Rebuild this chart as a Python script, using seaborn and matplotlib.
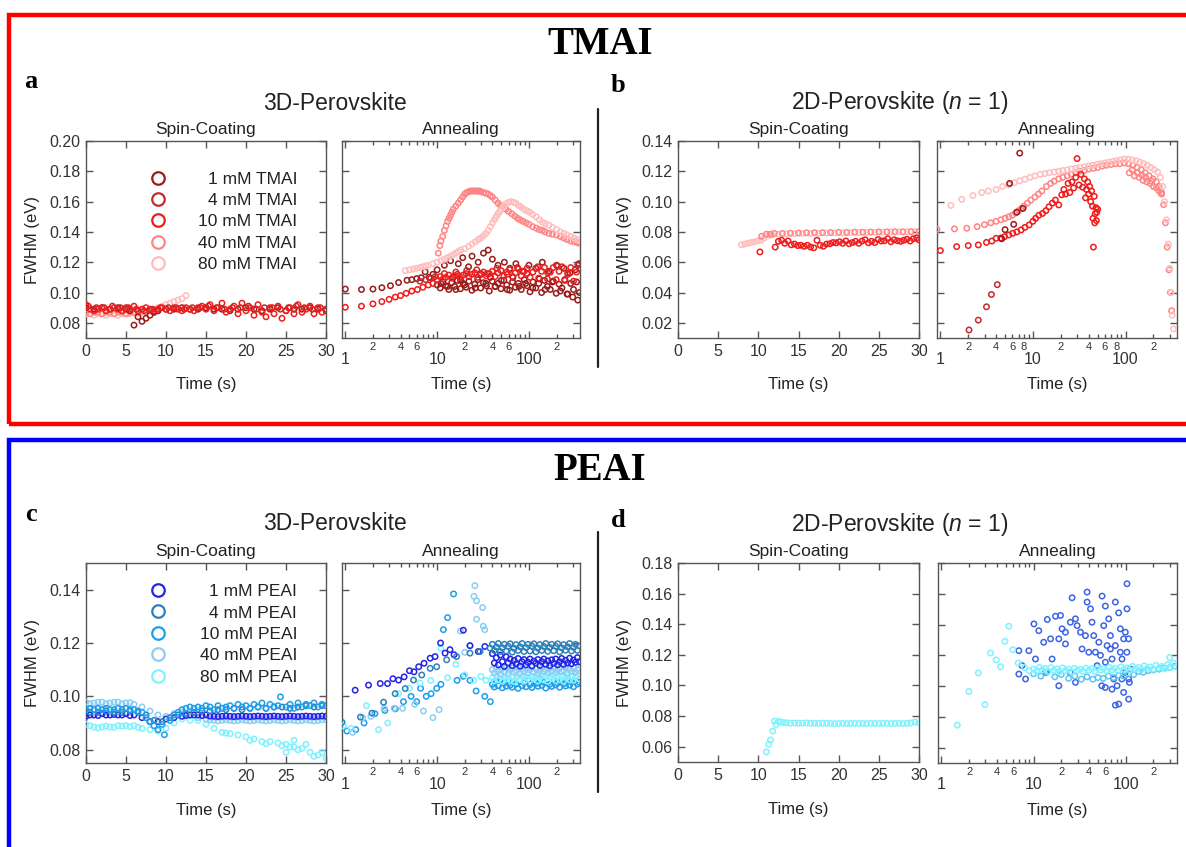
import numpy as np
import pandas as pd
import matplotlib
matplotlib.use("Agg")
import matplotlib.pyplot as plt
import seaborn as sns
from matplotlib.ticker import FixedLocator, FuncFormatter
from matplotlib.patches import Rectangle
from matplotlib.lines import Line2D

sns.set_theme(style="ticks")
plt.rcParams['font.family'] = ['Liberation Sans', 'DejaVu Sans']
plt.rcParams['mathtext.fontset'] = 'custom'
plt.rcParams['mathtext.it'] = 'Liberation Sans:italic'
plt.rcParams['mathtext.rm'] = 'Liberation Sans'

# ---------------- data ----------------
TMAI_LABELS = ["1 mM TMAI", "4 mM TMAI", "10 mM TMAI", "40 mM TMAI", "80 mM TMAI"]
PEAI_LABELS = ["1 mM PEAI", "4 mM PEAI", "10 mM PEAI", "40 mM PEAI", "80 mM PEAI"]
TMAI_COLORS = ["#9B1B1B", "#C42A2E", "#F01C1C", "#FF8585", "#FFBDBD"]
PEAI_COLORS = ["#2424E8", "#2C82B8", "#1E9EEA", "#8CCDF2", "#7EF2FF"]

# sampling times of the dense annealing bands (s)
BAND_T_A = [10, 10.8, 11.6, 12.4, 13.4, 14.4, 15.5, 16.6, 17.9, 19.2, 20.7, 22.2, 23.9, 25.7, 27.7, 29.8, 32, 34.4, 37, 39.8,
            42.8, 46.1, 49.6, 53.3, 57.3, 61.7, 66.3, 71.3, 76.7, 82.5, 88.8, 95.5, 102.7, 110.5, 118.8, 127.8, 137.5, 147.9, 159, 171,
            184, 198, 213, 229, 246, 265, 285, 306, 330, 355]
BAND_T_C = [40, 42, 44.2, 46.4, 48.8, 51.3, 53.9, 56.6, 59.5, 62.5, 65.7, 69, 72.5, 76.2, 80.1, 84.2, 88.4, 92.9, 97.7, 102.6,
            107.8, 113.3, 119.1, 125.2, 131.5, 138.2, 145.2, 152.6, 160.4, 168.6, 177.1, 186.1, 195.6, 205.6, 216, 227, 238.6, 250.7, 263.5, 276.9,
            291, 305.8, 321.3, 337.7, 355]

# panel a : TMAI 3D spin-coating
a_spin_1 = [(0,.090),(1,.089),(2,.090),(3,.089),(4,.090),(5,.089),(5.5,.088),(6,.0785),(6.5,.084),(7,.081),(7.5,.083),(8,.085),(8.5,.087),(9,.088),(10,.089),(11,.089),(12,.090),(13,.089),(14,.089),(15,.090),(16,.089),(17,.089),(18,.088),(19,.089),(20,.090),(21,.089),(22,.088),(23,.089),(24,.090),(25,.088),(26,.089),(27,.089),(28,.090),(29,.089),(30,.088)]
a_spin_4 = [(0.3,.091),(1.3,.090),(2.3,.090),(3.3,.091),(4.3,.090),(5.3,.090),(6.3,.089),(7.3,.088),(8.3,.089),(9.3,.090),(10.3,.090),(11.3,.090),(12.3,.089),(13.3,.090),(14.3,.090),(15.3,.091),(16.3,.090),(17.3,.089),(18.3,.090),(19.3,.090),(20.3,.091),(21.3,.089),(22.3,.090),(23.3,.090),(24.3,.089),(25.3,.090),(26.3,.091),(27.3,.090),(28.3,.089),(29.3,.090)]
a_spin_10 = [(0,.092),(0.5,.089),(1,.088),(1.5,.089),(2,.090),(2.5,.088),(3,.089),(3.5,.090),(4,.089),(4.5,.088),(5,.090),(5.5,.089),(6,.091),(6.5,.088),(7,.089),(7.5,.090),(8,.089),(8.5,.088),(9,.089),(9.5,.090),(10,.089),(10.5,.088),(11,.090),(11.5,.089),(12,.088),(12.5,.090),(13,.089),(13.5,.088),(14,.090),(14.5,.091),(15,.089),(15.5,.092),(16,.088),(16.5,.090),(17,.093),(17.5,.087),(18,.089),(18.5,.091),(19,.086),(19.5,.093),(20,.088),(20.5,.090),(21,.085),(21.5,.092),(22,.087),(22.5,.084),(23,.090),(23.5,.086),(24,.091),(24.5,.083),(25,.088),(25.5,.090),(26,.086),(26.5,.092),(27,.087),(27.5,.089),(28,.091),(28.5,.086),(29,.090),(29.5,.087),(30,.089)]
a_spin_40 = [(0,.087),(0.5,.086),(1,.087),(1.5,.087),(2,.086),(2.5,.087),(3,.087),(3.5,.086),(4,.087),(4.5,.087),(5,.086),(5.5,.087),(6,.087),(6.5,.087),(7,.088),(7.5,.087),(8,.088),(8.5,.087),(9,.088)]
a_spin_80 = [(0,.086),(0.5,.086),(1,.085),(1.5,.086),(2,.086),(2.5,.085),(3,.086),(3.5,.086),(4,.085),(4.5,.086),(5,.086),(5.5,.086),(6,.087),(6.5,.086),(7,.087),(7.5,.087),(8,.088),(8.5,.089),(9,.090),(9.5,.091),(10,.092),(10.5,.093),(11,.094),(11.5,.095),(12,.096),(12.5,.098)]

# panel a : TMAI 3D annealing
a_ann_1 = [(1.0,.1023),(1.5,.102),(2.0,.1023),(2.5,.1032),(3.1,.1045),(3.8,.1066),(4.7,.1081),(5.3,.1085),(6.0,.1092),(6.7,.1098),(7.4,.1137),(8.2,.110),(9.0,.112),
           (10,.115),(11,.106),(12,.118),(13,.104),(14,.121),(15,.110),(16,.102),(17,.119),(18,.108),(19,.123),(20,.105),(22,.117),(24,.124),(26,.103),(28,.120),(30,.112),(32,.126),(34,.106),(36,.128),(38,.110),(40,.122),(43,.104),(46,.118),(50,.108),(54,.120),(58,.102),(62,.116),(67,.110),(72,.119),(78,.104),(85,.114),(92,.106),(100,.118),(110,.103),(120,.116),(130,.109),(140,.120),(150,.102),(165,.114),(180,.107),(200,.118),(220,.101),(240,.116),(260,.099),(280,.113),(300,.097),(320,.115),(340,.095),(350,.119)]
a_ann_1_band = [.1050,.1030,.1070,.1045,.1020,.1065,.1040,.1080,.1025,.1060,.1035,.1075,.1015,.1055,.1085,.1030,.1065,.1045,.1010,.1075,
                .1040,.1060,.1025,.1080,.1050,.1015,.1070,.1035,.1060,.1020,.1085,.1045,.1005,.1070,.1030,.1060,.1000,.1080,.1040,.1020,
                .1075,.0995,.1055,.1030,.1085,.0990,.1060,.1020,.1070,.1000]
a_ann_4 = [(6.5,.1075),(7.5,.1085),(8.5,.1095),(9.5,.1105),(12,.1125),(16,.1135),(21,.1145),(27,.1150),(35,.1125),(45,.1160),(58,.1120),(75,.1165),(95,.1125),(125,.1170),(160,.1130),(205,.1175),(265,.1120),(340,.1180)]
a_ann_10_early = [(1.0,.0903),(1.5,.091),(2.0,.0925),(2.5,.094),(3.0,.0955),(3.5,.097),(4.0,.098),(4.6,.0995),(5.3,.101),(6.1,.102),(7.0,.1035),(8.0,.105),(9.0,.106)]
a_ann_10_band = [.1085,.1105,.1090,.1100,.1115,.1095,.1110,.1120,.1100,.1115,.1125,.1105,.1120,.1130,.1100,.1125,.1135,.1110,.1125,.1140,
                 .1105,.1130,.1145,.1110,.1135,.1150,.1105,.1130,.1155,.1110,.1140,.1160,.1100,.1135,.1160,.1095,.1140,.1165,.1090,.1135,
                 .1165,.1085,.1140,.1170,.1080,.1130,.1165,.1075,.1135,.1160]
a_ann_40 = [(10.3,.126),(10.7,.131),(11.0,.134),(11.5,.137),(12.0,.141),(12.5,.144),(13.0,.147),(13.5,.149),(14.0,.151),(14.5,.153),(15,.155),(16,.157),(17,.159),(18,.161),(19,.163),(20,.165),(21,.166),(22,.1665),(23,.167),(24,.167),(25,.167),(26,.167),(27,.167),(28,.167),(29,.167),(30,.1665),(32,.166),(34,.1655),(36,.165),(38,.164),(40,.163),(43,.161),(46,.159),(49,.1575),(52,.157),(56,.155),(60,.1535),(65,.152),(70,.1505),(75,.149),(80,.148),(86,.147),(93,.146),(100,.145),(110,.1435),(120,.1425),(130,.1415),(140,.141),(150,.140),(165,.139),(180,.1385),(200,.138),(220,.137),(240,.136),(260,.135),(285,.134),(310,.1335),(335,.133),(355,.1325)]
a_ann_80 = [(4.5,.1145),(5,.115),(5.5,.1155),(6,.116),(6.5,.1165),(7,.117),(7.5,.1175),(8,.118),(9,.119),(10,.120),(11,.121),(12,.122),(13,.123),(14,.124),(15,.125),(16,.126),(17,.127),(18,.128),(20,.129),(22,.1305),(24,.132),(26,.1335),(28,.135),(30,.136),(32,.1375),(34,.139),(36,.141),(38,.1435),(40,.146),(42,.148),(44,.150),(46,.152),(48,.1535),(50,.155),(53,.157),(56,.1585),(60,.1595),(64,.160),(68,.1595),(72,.159),(77,.1575),(82,.1565),(88,.155),(95,.154),(102,.153),(110,.1515),(120,.150),(130,.148),(140,.1465),(150,.1455),(165,.1445),(180,.143),(200,.1415),(220,.140),(240,.139),(260,.138),(285,.137),(310,.136),(335,.135),(355,.1345)]

# panel b : TMAI 2D spin-coating
b_spin_10 = [(10.2,.0668),(12.1,.0700),(12.5,.0738),(12.9,.0745),(13.3,.0725),(13.7,.0740),(14.1,.0715),(14.5,.0720),(14.9,.0710),(15.3,.0712),(15.7,.0705),(16.1,.0712),(16.5,.0700),(16.9,.0695),(17.3,.0745),(17.7,.0712),(18.1,.0705),(18.5,.0720),(18.9,.0722),(19.3,.0730),(19.7,.0728),(20.1,.0735),(20.5,.0725),(20.9,.0740),(21.3,.0722),(21.7,.0730),(22.1,.0738),(22.5,.0725),(22.9,.0740),(23.3,.0748),(23.7,.0728),(24.1,.0738),(24.5,.0730),(24.9,.0750),(25.3,.0740),(25.7,.0742),(26.1,.0755),(26.5,.0735),(26.9,.0748),(27.3,.0742),(27.7,.0738),(28.1,.0745),(28.5,.0752),(28.9,.0740),(29.3,.0755),(29.7,.0760),(30,.0748)]
b_spin_40 = [(10.4,.0771),(11,.0785),(11.5,.0785),(12,.079),(13,.079),(14,.0792),(15,.0793),(16,.0794),(17,.0795),(18,.0795),(19,.0796),(20,.0797),(21,.0797),(22,.0798),(23,.0798),(24,.0799),(25,.080),(26,.080),(27,.0801),(28,.0801),(29,.0802),(30,.0803)]
b_spin_80 = [(7.9,.0715),(8.3,.072),(8.7,.0725),(9.1,.073),(9.5,.0735),(9.9,.074),(10.3,.0745),(10.7,.076),(11.2,.0775),(11.7,.078),(12.5,.0785),(13.5,.0787),(14.5,.0788),(15.5,.079),(16.5,.079),(17.5,.0791),(18.5,.0792),(19.5,.0793),(20.5,.0794),(21.5,.0795),(22.5,.0796),(23.5,.0797),(24.5,.0798),(25.5,.0799),(26.5,.080),(27.5,.080),(28.5,.0801),(29.5,.0802)]

# panel b : TMAI 2D annealing
b_ann_1 = [(4.6,.0755),(5.0,.0815),(5.6,.112),(6.2,.085),(6.7,.093),(7.2,.132),(7.8,.0955)]
b_ann_4 = [(2.04,.0153),(2.57,.0218),(3.15,.0306),(3.56,.0387),(4.12,.0452)]
b_ann_10 = [(1.0,.0677),(1.5,.0703),(2.0,.071),(2.57,.0714),(3.15,.0731),(3.6,.074),(4.0,.0758),(4.5,.076),(4.94,.0769),(5.5,.078),(6.06,.0791),(6.7,.080),(7.45,.0813),(8.2,.083),(9.1,.0846),(10.0,.087),(10.7,.089),(11.6,.091),(12.7,.0922),(13.8,.094),(14.9,.0966),(16.2,.099),(17.5,.101),(19,.0978),(20.5,.1045),(21.6,.108),(22.5,.105),(24,.112),(25,.106),(26.4,.113),(27.5,.109),(29,.116),(30,.1284),(31.5,.111),(33,.118),(34.5,.1095),(36,.115),(37,.1025),(38,.108),(39,.113),(40,.105),(41,.110),(42,.100),(43,.107),(44,.097),(45,.070),(46,.1035),(47,.092),(48,.096),(49,.093),(50,.095),(44.5,.089),(46.5,.086),(48.5,.0875)]
b_ann_40 = [(0.92,.0817),(1.42,.0820),(1.93,.0824),(2.5,.0835),(3.0,.0848),(3.5,.0860),(4.0,.0870),(4.5,.0880),(5.0,.0890),(5.5,.0900),(6.0,.0910),(6.5,.0925),(7.0,.094),(7.5,.0955),(8.0,.097),(8.7,.099),(9.5,.101),(10.5,.103),(11.5,.105),(12.5,.107),(14,.110),(15.5,.112),(17,.1135),(19,.115),(21,.116),(23.5,.117),(26,.118),(29,.119),(32,.120),(36,.1205),(40,.1215),(45,.122),(50,.1225),(56,.1235),(62,.124),(70,.1245),(78,.125),(87,.125),(97,.1255),(108,.125),(120,.124),(133,.1225),(148,.121),(163,.119),(180,.117),(198,.115),(215,.113),(230,.110),(245,.106),(258,.098),(270,.086),(282,.070),(295,.055),(305,.040),(315,.028),
            (110,.119),(125,.117),(140,.116),(155,.114),(170,.113),(185,.112),(200,.110),(215,.109),(230,.107),(245,.105),(118,.121),(135,.119),(150,.1175),(165,.116),(192,.1135)]
b_ann_80 = [(1.3,.0975),(1.7,.1015),(2.25,.104),(2.8,.106),(3.3,.107),(4.0,.108),(4.7,.110),(5.5,.111),(6.3,.1125),(7.2,.1137),(8.2,.1148),(9.3,.116),(10.5,.117),(12,.118),(13.5,.1185),(15,.119),(17,.1195),(19,.120),(21,.1205),(23.5,.121),(26,.1215),(29,.122),(32,.1225),(36,.123),(40,.1235),(44,.124),(49,.1245),(54,.125),(60,.1255),(66,.126),(73,.1265),(80,.127),(88,.1275),(97,.128),(107,.128),(118,.1275),(130,.127),(143,.126),(157,.125),(172,.124),(188,.1225),(205,.121),(222,.1195),(238,.116),(252,.110),(265,.100),(277,.088),(290,.072),(300,.056),(310,.040),(320,.025),(330,.016)]

# panel c : PEAI 3D spin-coating
c_spin_1 = [(0,.0925),(1,.093),(2,.0935),(3,.093),(4,.093),(5,.0935),(6,.093),(7,.092),(8,.0905),(9,.0905),(10,.0915),(11,.092),(12,.0925),(13,.093),(14,.093),(15,.093),(16,.0925),(17,.0925),(18,.0925),(19,.0925),(20,.0925),(21,.0925),(22,.0925),(23,.0925),(24,.0925),(25,.0925),(26,.0925),(27,.0925),(28,.0925),(29,.0925),(30,.0925),
            (0.5,.093),(1.5,.0928),(2.5,.093),(3.5,.0932),(4.5,.093),(5.5,.0928),(12.5,.0928),(13.5,.093),(14.5,.0928),(15.5,.0926),(16.5,.0924),(17.5,.0926),(18.5,.0924),(19.5,.0926),(20.5,.0924),(21.5,.0926),(22.5,.0924),(23.5,.0926),(24.5,.0924),(25.5,.0926),(26.5,.0924),(27.5,.0926),(28.5,.0924),(29.5,.0926)]
c_spin_4 = [(0.5,.094),(1.5,.094),(2.5,.0945),(3.5,.094),(4.5,.094),(5.5,.0945),(6.5,.094),(7.5,.093),(8.5,.091),(9.5,.0905),(10.5,.092),(11.5,.093),(12.5,.0935),(13.5,.094),(14.5,.0945),(15.5,.0945),(16.5,.095),(17.5,.095),(18.5,.0955),(19.5,.095),(20.5,.0955),(21.5,.096),(22.5,.0955),(23.5,.096),(24.5,.096),(25.5,.0955),(26.5,.096),(27.5,.0965),(28.5,.096),(29.5,.0965)]
c_spin_10 = [(0,.095),(0.5,.0955),(1,.095),(1.5,.0955),(2,.095),(2.5,.0955),(3,.095),(3.5,.095),(4,.0955),(4.5,.095),(5,.0955),(5.5,.095),(6,.095),(6.5,.0945),(7,.094),(7.5,.092),(8,.0905),(8.5,.089),(9,.0875),(9.5,.0895),(9.8,.0856),(10.5,.091),(11,.093),(11.5,.094),(12,.095),(12.5,.0955),(13,.096),(13.5,.0955),(14,.096),(14.5,.0955),(15,.0965),(15.5,.096),(16,.095),(16.5,.0965),(17,.0955),(17.5,.096),(18,.0965),(18.5,.0955),(19,.097),(19.5,.096),(20,.0965),(20.5,.0955),(21,.097),(21.5,.096),(22,.0975),(22.5,.0955),(23,.097),(23.5,.096),(24,.0965),(24.3,.0998),(25,.096),(25.5,.097),(26,.0955),(26.5,.0975),(27,.096),(27.5,.097),(28,.0965),(28.5,.0975),(29,.096),(29.5,.097),(30,.0965)]
c_spin_40 = [(0,.0978),(1,.0975),(2,.0978),(3,.0975),(4,.0978),(5,.0975),(6,.097),(7,.096),(8,.0945),(9,.093),(10,.0925),(11,.0935),(12,.094),(13,.093),(14,.092),(15,.0915),(16,.091),(17,.091),(18,.091),(19,.091),(20,.091),(21,.091),(22,.091),(23,.091),(24,.091),(25,.091),(26,.091),(27,.091),(28,.091),(29,.091),(30,.0912),
             (0.5,.0972),(1.5,.0978),(2.5,.0972),(3.5,.0978),(4.5,.0972),(5.5,.0976),(15.5,.0912),(16.5,.0908),(17.5,.0912),(18.5,.0908),(19.5,.0912),(20.5,.0908),(21.5,.0912),(22.5,.0908),(23.5,.0912),(24.5,.0908),(25.5,.0912),(26.5,.0908),(27.5,.0912),(28.5,.0908),(29.5,.0912)]
c_spin_80 = [(0,.0895),(1,.0885),(2,.0885),(3,.0885),(4,.089),(5,.089),(6,.089),(7,.088),(8,.0875),(9,.087),(10,.088),(11,.090),(12,.0915),(13,.091),(14,.091),(15,.0895),(16,.088),(17,.0865),(18,.086),(19,.0855),(20,.0848),(21,.084),(22,.083),(23,.083),(24,.0825),(25,.082),(26,.081),(27,.0805),(28,.079),(29,.078),(30,.0768),
             (17.5,.0862),(20.5,.0835),(22.5,.0822),(24.5,.0815),(25.5,.0810),(26.5,.0800),(27.5,.0820),(28.5,.0775),(29.5,.0790),(25,.0790),(26,.0835),
             (0.5,.089),(1.5,.0882),(2.5,.0888),(3.5,.0884),(4.5,.0888),(5.5,.0886),(6.5,.0884)]

# panel c : PEAI 3D annealing
c_ann_1_early = [(1.28,.1023),(1.79,.1042),(2.4,.1048),(2.88,.1048),(3.3,.1066),(3.8,.1061),(4.37,.1073),(5.0,.1096),(5.6,.1092),(6.3,.1111),(7.2,.1124),(8.4,.1143),(9.5,.1149),(10.9,.120),(12.2,.1162),(13.8,.1175),(15.3,.1156),(19.3,.1248),(22.8,.119),(28.1,.1168),(33.1,.1187)]
c_ann_1_band = [.1160,.1125,.1145,.1118,.1155,.1130,.1112,.1148,.1125,.1140,.1115,.1135,.1122,.1142,.1113,.1130,.1138,.1118,.1128,.1140,
                .1114,.1132,.1125,.1138,.1116,.1130,.1140,.1120,.1133,.1115,.1137,.1124,.1140,.1118,.1130,.1142,.1120,.1135,.1125,.1143,
                .1122,.1136,.1128,.1145,.1130]
c_ann_4_early = [(0.92,.0903),(1.46,.0922),(1.95,.0937),(2.61,.0978),(3.49,.101),(4.49,.1029),(5.53,.1061),(6.8,.108),(8.4,.1105),(9.9,.1111),(12.7,.1137),(16.3,.1149),(22.8,.1162),(29.3,.1168),(37.7,.1181)]
c_ann_4_band = [.1195,.1172,.1185,.1198,.1168,.1182,.1195,.1170,.1188,.1197,.1166,.1180,.1194,.1172,.1186,.1198,.1168,.1183,.1195,.1170,
                .1189,.1197,.1167,.1181,.1194,.1172,.1187,.1198,.1169,.1183,.1195,.1171,.1188,.1197,.1167,.1182,.1194,.1173,.1186,.1198,
                .1170,.1184,.1195,.1172,.1189]
c_ann_10_early = [(1.04,.087),(1.3,.0875),(1.6,.090),(2.1,.0935),(2.7,.0947),(3.5,.0953),(4.3,.098),(5.2,.100),(6.0,.098),(6.6,.103),(7.6,.100),(8.6,.101),(9.9,.103),(11.7,.125),(13.0,.1295),(15.1,.1384),(11.0,.1045),(16.5,.106),(19.3,.1075),(22.8,.106),(26.6,.102),(33,.100),(38,.098)]
c_ann_10_band = [.1045,.1035,.1058,.1040,.1062,.1032,.1050,.1038,.1060,.1042,.1034,.1055,.1046,.1030,.1058,.1040,.1052,.1036,.1061,.1044,
                 .1033,.1056,.1048,.1038,.1062,.1041,.1053,.1031,.1057,.1045,.1037,.1060,.1043,.1050,.1034,.1058,.1047,.1039,.1061,.1042,
                 .1054,.1036,.1059,.1046,.1052]
c_ann_40_early = [(1.2,.0865),(1.55,.092),(1.9,.0925),(2.65,.0955),(3.4,.0955),(4.2,.0955),(5.7,.097),(7.1,.0945),(9.0,.092),(10.5,.095),(18,.1245),(20,.1165),(22.8,.119),(25.8,.1415),(25.2,.1375),(26.9,.1358),(31.3,.1333),(26.9,.1289),(31.8,.1263),(33,.125)]
c_ann_40_band = [.1100,.1088,.1108,.1095,.1085,.1105,.1092,.1110,.1087,.1100,.1106,.1090,.1097,.1109,.1086,.1102,.1094,.1107,.1089,.1099,
                 .1110,.1091,.1103,.1086,.1096,.1108,.1093,.1101,.1088,.1105,.1095,.1110,.1089,.1100,.1106,.1092,.1098,.1109,.1087,.1103,
                 .1094,.1107,.1090,.1100,.1105]
c_ann_80_early = [(0.95,.089),(1.15,.088),(1.7,.0965),(2.3,.0875),(2.9,.090),(3.8,.101),(5.0,.103),(6.5,.105),(8.5,.106),(11,.118),(13,.107),(16,.112),(20,.108),(25,.106),(30,.1075),(34,.106)]
c_ann_80_band = [.1070,.1058,.1077,.1062,.1080,.1056,.1072,.1066,.1078,.1060,.1074,.1055,.1069,.1079,.1063,.1075,.1057,.1071,.1080,.1061,
                 .1073,.1066,.1078,.1058,.1070,.1076,.1062,.1079,.1056,.1072,.1067,.1080,.1059,.1074,.1064,.1077,.1057,.1071,.1079,.1062,
                 .1075,.1060,.1073,.1078,.1065]

# panel d : PEAI 2D spin-coating
d_spin_80 = [(11.0,.0566),(11.3,.0616),(11.5,.0644),(11.8,.0702),(12.0,.0767),(12.2,.0745),(12.5,.0765),(12.8,.0762),(13.1,.0758),(13.5,.0756),(14,.0754),(14.5,.0755),(15,.0753),(15.5,.0754),(16,.0755),(16.5,.0753),(17,.0754),(17.5,.0752),(18,.0754),(18.5,.0753),(19,.0752),(19.5,.0750),(20,.0752),(20.5,.0753),(21,.0751),(21.5,.0752),(22,.0753),(22.5,.0751),(23,.0752),(23.5,.0751),(24,.0753),(24.5,.0752),(25,.0751),(25.5,.0753),(26,.0752),(26.5,.0751),(27,.0752),(27.5,.0753),(28,.0751),(28.5,.0753),(29,.0755),(29.5,.0762),(30,.0754)]

# panel d : PEAI 2D annealing
d_ann_1 = [(6.93,.1078),(6.93,.123),(8.9,.123),(10.1,.1404),(11.4,.136),(12.9,.1285),(14.1,.1433),(15.3,.1307),(17.3,.1454),(19.6,.1459),(20.4,.1372),(22.2,.1274),(25.1,.1415),(26.2,.1574),(29.7,.1393),(32.3,.135),(33.6,.1241),(38.1,.1611),(38.1,.1546),(41.5,.1502),(43.1,.1415),(45,.1328),(46.9,.122),(48.9,.1133),(55.4,.1585),(57.8,.1393),(60.2,.152),(62.8,.1263),(65.4,.1437),(68.2,.1328),(71.1,.1176),(74.1,.1046),(77.2,.1546),(80.5,.1002),(83.9,.1476),(87.4,.1372),(91.1,.1176),(95,.0959),(99,.135),(103.2,.1665),(103.2,.1502),(107.6,.1307),(107.6,.0915),(112.1,.1111),(109.6,.1024),(83.9,.0883),(77.2,.0876),
           (22.2,.135),(28.5,.1437),(36.6,.1328),(39.8,.122),(51.1,.1285),(53.2,.120),(60.2,.1155),(68.2,.1241),(77.2,.1263),(87.4,.122),(95,.1307),(99,.1089),(103,.122),(107.6,.1046),(91,.1046),(71,.098),(60,.0991),(55,.1002),(15.9,.1176),(18.8,.1307),(10.5,.1176),(8.2,.1046),(7.5,.1133),(25,.1089),(18.8,.1002),(28.5,.1024),(13.5,.1089)]
d_ann_40 = [(10,.108),(12,.1065),(14,.109),(17,.106),(20,.1075),(24,.105),(28,.1065),(33,.1045),(38,.106),(44,.1045),(50,.1055),(57,.105),(65,.1065),(74,.1055),(84,.107),(95,.1065),(108,.108),(122,.1075),(138,.1095),(155,.109),(175,.110),(200,.1105),(230,.111),(260,.112),(300,.112),(340,.113)]
d_ann_80_early = [(1.49,.0746),(1.99,.0965),(2.52,.1085),(2.97,.088),(3.42,.1215),(3.94,.117),(4.39,.1126),(4.89,.1291),(5.4,.1389),(5.97,.1237),(6.8,.115),(8,.112),(9,.110),(300,.1185)]
d_ann_80_band = [.1110,.1098,.1122,.1105,.1115,.1095,.1120,.1102,.1112,.1094,.1118,.1100,.1110,.1092,.1116,.1101,.1108,.1095,.1117,.1102,
                 .1112,.1096,.1119,.1104,.1113,.1099,.1122,.1106,.1116,.1101,.1125,.1108,.1118,.1104,.1128,.1111,.1121,.1107,.1131,.1114,
                 .1124,.1110,.1135,.1117,.1128,.1113,.1140,.1121,.1150,.1125]

# ---------------- figure ----------------
W, H = 1186, 847
fig = plt.figure(figsize=(W / 100, H / 100), dpi=100)
TXT = "#222222"
TICKC = "#555555"


def px_axes(l, t, r, b):
    return fig.add_axes([l / W, 1 - b / H, (r - l) / W, (b - t) / H])


def scat(ax, pts, color, s=15):
    df = pd.DataFrame(pts, columns=["Time (s)", "FWHM (eV)"])
    sns.scatterplot(data=df, x="Time (s)", y="FWHM (eV)", ax=ax, color=color,
                    facecolors="none", edgecolor=color, s=s, linewidth=1.1,
                    legend=False, zorder=3)


def band(times, values):
    return list(zip(times, values))


def common(ax):
    for sp in ax.spines.values():
        sp.set_color(TICKC)
        sp.set_linewidth(1.0)
    ax.set_xlabel("Time (s)", fontsize=12, color=TXT)
    ax.xaxis.set_label_coords(0.5, -0.20)


def style_spin(ax, ylim, yticks):
    ax.set_xlim(0, 30)
    ax.set_xticks(range(0, 31, 5))
    ax.set_ylim(*ylim)
    ax.set_yticks(yticks)
    ax.yaxis.set_major_formatter(FuncFormatter(lambda v, p: f"{v:.2f}"))
    ax.tick_params(which="both", direction="in", top=True, right=True,
                   length=5, width=1, color=TICKC, labelcolor="#333333",
                   labelsize=11.5, pad=4)
    ax.set_ylabel("FWHM (eV)", fontsize=12, color=TXT)
    ax.yaxis.set_label_coords(-0.19, 0.5)
    ax.set_title("Spin-Coating", fontsize=12.5, color=TXT, pad=5)
    common(ax)


def minor_fmt(labeled):
    def f(v, pos):
        for m in labeled:
            if abs(v - m) < 1e-6 * m:
                return str(int(round(m / 10 ** int(np.floor(np.log10(m) + 1e-9)))))
        return ""
    return FuncFormatter(f)


def style_ann(ax, ylim, yticks, labeled):
    ax.set_xlim(0.92, 360)
    ax.xaxis.set_major_locator(FixedLocator([1, 10, 100]))
    ax.xaxis.set_major_formatter(FuncFormatter(lambda v, p: f"{v:g}"))
    mins = [k * 10 ** e for e in range(0, 3) for k in range(2, 10) if k * 10 ** e < 360]
    ax.xaxis.set_minor_locator(FixedLocator(mins))
    ax.xaxis.set_minor_formatter(minor_fmt(labeled))
    ax.set_ylim(*ylim)
    ax.set_yticks(yticks)
    ax.set_yticklabels([])
    ax.set_ylabel("")
    ax.tick_params(which="both", direction="in", top=True, right=True,
                   color=TICKC, labelcolor="#333333", width=1)
    ax.tick_params(axis="x", which="major", length=5, pad=10, labelsize=11.5)
    ax.tick_params(axis="x", which="minor", length=3, pad=3, labelsize=8)
    ax.tick_params(axis="y", which="major", length=5)
    ax.set_title("Annealing", fontsize=12.5, color=TXT, pad=5)
    common(ax)


def legend(ax, labels, colors, anchor, right_px):
    handles = [Line2D([], [], marker="o", ls="none", mfc="none", mec=c, ms=9, mew=1.6)
               for c in colors]
    leg = ax.legend(handles, labels, loc="upper left", bbox_to_anchor=anchor,
                    frameon=False, fontsize=12.5, handlelength=1.0,
                    handletextpad=1.6, labelspacing=0.36, borderpad=0,
                    borderaxespad=0)
    fig.canvas.draw()
    r = fig.canvas.get_renderer()
    # right-align the entry texts at a common right edge
    for t in leg.get_texts():
        bb = t.get_window_extent(r)
        yc = 0.5 * (bb.y0 + bb.y1)
        t.set_alpha(0)
        fig.text(right_px / W, yc / H, t.get_text(), ha="right", va="center",
                 fontsize=12.5, color=TXT)


# --- axes
ax_a1 = px_axes(86, 141, 326, 338)
ax_a2 = px_axes(342, 141, 580, 338)
ax_b1 = px_axes(678, 141, 919, 338)
ax_b2 = px_axes(937, 141, 1177, 338)
ax_c1 = px_axes(86, 563, 326, 763)
ax_c2 = px_axes(342, 563, 580, 763)
ax_d1 = px_axes(678, 563, 919, 762)
ax_d2 = px_axes(938, 563, 1177, 763)

for ax in (ax_a2, ax_b2, ax_c2, ax_d2):
    ax.set_xscale("log")

tc = TMAI_COLORS
pc = PEAI_COLORS

# panel a
scat(ax_a1, a_spin_80, tc[4]); scat(ax_a1, a_spin_40, tc[3]); scat(ax_a1, a_spin_1, tc[0])
scat(ax_a1, a_spin_4, tc[1]); scat(ax_a1, a_spin_10, tc[2])
scat(ax_a2, a_ann_1 + band(BAND_T_A, a_ann_1_band), tc[0]); scat(ax_a2, a_ann_4, tc[1])
scat(ax_a2, a_ann_10_early + band(BAND_T_A, a_ann_10_band), tc[2])
scat(ax_a2, a_ann_40, tc[3]); scat(ax_a2, a_ann_80, tc[4])
# panel b
scat(ax_b1, b_spin_80, tc[4]); scat(ax_b1, b_spin_40, tc[3]); scat(ax_b1, b_spin_10, tc[2])
scat(ax_b2, b_ann_40, tc[3]); scat(ax_b2, b_ann_80, tc[4]); scat(ax_b2, b_ann_10, tc[2])
scat(ax_b2, b_ann_4, tc[1]); scat(ax_b2, b_ann_1, tc[0])
# panel c
scat(ax_c1, c_spin_80, pc[4]); scat(ax_c1, c_spin_40, pc[3]); scat(ax_c1, c_spin_1, pc[0])
scat(ax_c1, c_spin_4, pc[1]); scat(ax_c1, c_spin_10, pc[2])
scat(ax_c2, c_ann_10_early + band(BAND_T_C, c_ann_10_band), pc[2])
scat(ax_c2, c_ann_80_early + band(BAND_T_C, c_ann_80_band), pc[4])
scat(ax_c2, c_ann_40_early + band(BAND_T_C, c_ann_40_band), pc[3])
scat(ax_c2, c_ann_1_early + band(BAND_T_C, c_ann_1_band), pc[0])
scat(ax_c2, c_ann_4_early + band(BAND_T_C, c_ann_4_band), pc[1])
# panel d
scat(ax_d1, d_spin_80, pc[4])
scat(ax_d2, d_ann_1, "#3D64E4"); scat(ax_d2, d_ann_40, "#5CC6F0")
scat(ax_d2, d_ann_80_early + band(BAND_T_A, d_ann_80_band), pc[4])

style_spin(ax_a1, (0.07, 0.20), np.arange(0.08, 0.2001, 0.02))
style_ann(ax_a2, (0.07, 0.20), np.arange(0.08, 0.2001, 0.02), [2, 4, 6, 20, 40, 60, 200])
style_spin(ax_b1, (0.01, 0.14), np.arange(0.02, 0.1401, 0.02))
style_ann(ax_b2, (0.01, 0.14), np.arange(0.02, 0.1401, 0.02), [2, 4, 6, 8, 20, 40, 60, 80, 200])
style_spin(ax_c1, (0.075, 0.15), np.arange(0.08, 0.1401, 0.02))
style_ann(ax_c2, (0.075, 0.15), np.arange(0.08, 0.1401, 0.02), [2, 4, 6, 20, 40, 60, 200])
style_spin(ax_d1, (0.05, 0.18), np.arange(0.06, 0.1801, 0.02))
style_ann(ax_d2, (0.05, 0.18), np.arange(0.06, 0.1801, 0.02), [2, 4, 6, 20, 40, 60, 200])

legend(ax_a1, TMAI_LABELS, TMAI_COLORS, (0.265, 0.845), 297)
legend(ax_c1, PEAI_LABELS, PEAI_COLORS, (0.265, 0.895), 297)

# --- frames, separators, titles
fig.add_artist(Rectangle((9 / W, 1 - 424 / H), (W + 30) / W, (424 - 15) / H,
                         transform=fig.transFigure, fill=False, ec="#FF0000", lw=3.2))
fig.add_artist(Rectangle((9 / W, -0.05), (W + 30) / W, (1 - 440 / H) + 0.05,
                         transform=fig.transFigure, fill=False, ec="#0000FF", lw=3.2))
for (y0, y1) in [(109, 367), (532, 792)]:
    fig.add_artist(Line2D([598 / W, 598 / W], [1 - y0 / H, 1 - y1 / H],
                          transform=fig.transFigure, color="#222222", lw=1.6))

serif = ["Liberation Serif", "DejaVu Serif"]


def ftext(x, y, s, **kw):
    fig.text(x / W, 1 - y / H, s, **kw)


ftext(600, 45, "TMAI", family=serif, weight="bold", fontsize=28, ha="center", va="center", color="black")
ftext(600, 470, "PEAI", family=serif, weight="bold", fontsize=28, ha="center", va="center", color="black")
for (x, y, s) in [(31, 81, "a"), (618, 86, "b"), (31, 514, "c"), (618, 520, "d")]:
    ftext(x, y, s, family=serif, weight="bold", fontsize=19, ha="center", va="center", color="black")
for y in (103, 524):
    ftext(335, y, "3D-Perovskite", fontsize=16.5, ha="center", va="center", color=TXT)
    ftext(900, y, "2D-Perovskite ($\\mathit{n}$ = 1)", fontsize=16.5, ha="center", va="center", color=TXT)

fig.savefig("out.png", dpi=100)
